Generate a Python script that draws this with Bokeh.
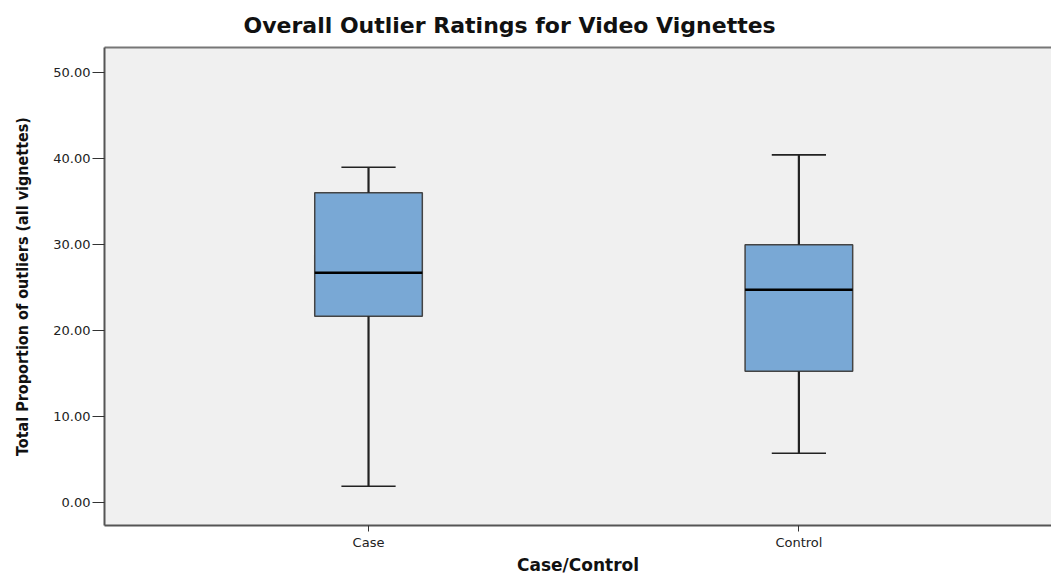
from bokeh.plotting import figure
from bokeh.models import Range1d, FixedTicker, LinearAxis
from bokeh.embed import file_html
from bokeh.resources import INLINE

# Data
categories = ["Case", "Control"]
positions = [0, 1]
mins = [1.86, 5.71]
q1s = [21.66, 15.25]
medians = [26.71, 24.73]
q3s = [36.03, 29.97]
maxs = [39.0, 40.45]
y_ticks = [0, 10, 20, 30, 40, 50]

BOX_W = 0.25
CAP_W = 0.126

p = figure(width=1051, height=577, output_backend="svg", toolbar_location=None,
           x_range=Range1d(-0.6135, 1.587), y_range=Range1d(-2.71, 52.95),
           min_border_left=104, min_border_top=47, min_border_bottom=52, min_border_right=0,
           title="Overall Outlier Ratings for Video Vignettes")

p.background_fill_color = "#f0f0f0"
p.border_fill_color = "white"
p.outline_line_color = None
p.grid.visible = False

p.title.text_font = "DejaVu Sans"
p.title.text_font_style = "bold"
p.title.text_font_size = "22px"
p.title.align = "left"
p.title.offset = 139
p.title.standoff = 20
p.title.text_color = "#111111"

# boxes
lefts = [x - BOX_W / 2 for x in positions]
rights = [x + BOX_W / 2 for x in positions]
p.quad(left=lefts, right=rights, bottom=q1s, top=q3s,
       fill_color="#79a8d5", line_color="#444444", line_width=1.5)
# whiskers
p.segment(x0=positions, y0=q3s, x1=positions, y1=maxs, line_color="#222222", line_width=2.2)
p.segment(x0=positions, y0=mins, x1=positions, y1=q1s, line_color="#222222", line_width=2.2)
# caps
p.segment(x0=[x - CAP_W / 2 for x in positions], y0=maxs,
          x1=[x + CAP_W / 2 for x in positions], y1=maxs, line_color="#222222", line_width=1.6)
p.segment(x0=[x - CAP_W / 2 for x in positions], y0=mins,
          x1=[x + CAP_W / 2 for x in positions], y1=mins, line_color="#222222", line_width=1.6)
# medians
p.segment(x0=lefts, y0=medians, x1=rights, y1=medians, line_color="black", line_width=2.5)

# x axis
p.xaxis.ticker = FixedTicker(ticks=positions)
p.xaxis.major_label_overrides = {pos: c for pos, c in zip(positions, categories)}
p.xaxis.minor_tick_line_color = None
p.xaxis.major_tick_in = 0
p.xaxis.major_tick_out = 6
p.xaxis.major_label_standoff = 3
p.xaxis.major_label_text_font = "DejaVu Sans"
p.xaxis.major_label_text_font_size = "13px"
p.xaxis.major_label_text_color = "#222222"
p.xaxis.axis_label = "Case/Control"
p.xaxis.axis_label_text_font = "DejaVu Sans"
p.xaxis.axis_label_text_font_style = "bold"
p.xaxis.axis_label_text_font_size = "17px"
p.xaxis.axis_label_text_color = "#111111"
p.xaxis.axis_label_standoff = 2
p.xaxis.axis_line_color = "#555555"
p.xaxis.axis_line_width = 2
p.xaxis.major_tick_line_color = "#333333"

# y axis
p.yaxis.ticker = FixedTicker(ticks=y_ticks)
p.yaxis.major_label_overrides = {t: f"{t:.2f}" for t in y_ticks}
p.yaxis.minor_tick_line_color = None
p.yaxis.major_tick_in = 0
p.yaxis.major_tick_out = 12
p.yaxis.major_label_standoff = 2
p.yaxis.major_label_text_font = "DejaVu Sans"
p.yaxis.major_label_text_font_size = "13px"
p.yaxis.major_label_text_color = "#222222"
p.yaxis.axis_label = "Total Proportion of outliers (all vignettes)"
p.yaxis.axis_label_text_font = "'Liberation Sans Narrow', 'DejaVu Sans Condensed', sans-serif"
p.yaxis.axis_label_text_font_style = "bold"
p.yaxis.axis_label_text_font_size = "16px"
p.yaxis.axis_label_text_color = "#111111"
p.yaxis.axis_label_standoff = 18
p.yaxis.axis_line_color = "#555555"
p.yaxis.axis_line_width = 2
p.yaxis.major_tick_line_color = "#333333"

# top border line
top_axis = LinearAxis(ticker=FixedTicker(ticks=[]), axis_line_color="#777777", axis_line_width=2,
                      major_tick_out=0, major_tick_in=0, minor_tick_out=0, minor_tick_in=0,
                      major_label_text_font_size="0px")
p.add_layout(top_axis, "above")

open("out.html", "w").write(file_html(p, INLINE))
